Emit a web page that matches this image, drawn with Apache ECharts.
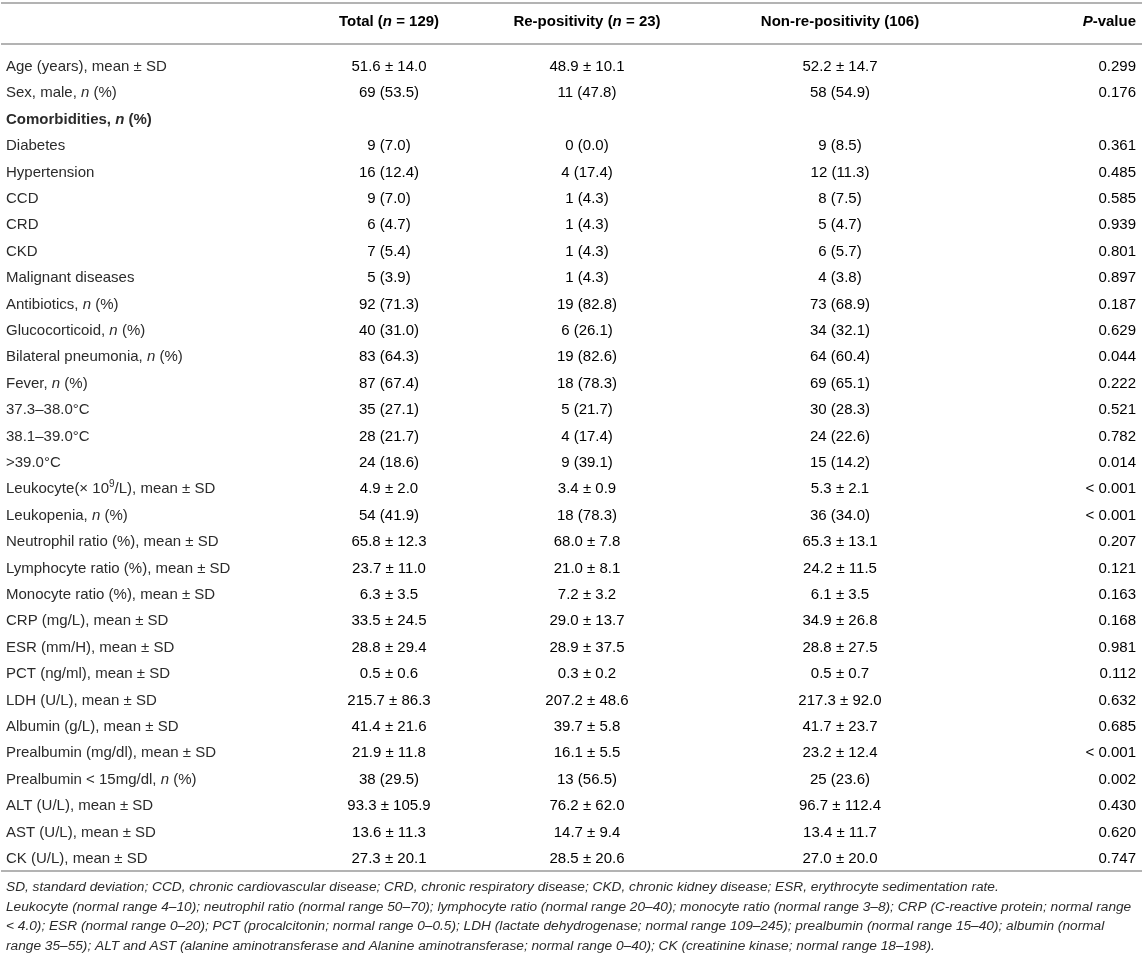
<!DOCTYPE html>
<html>
<head>
<meta charset="utf-8">
<script src="https://cdn.jsdelivr.net/npm/echarts@6/dist/echarts.min.js"></script>
<style>
  html, body { margin: 0; padding: 0; background: #fff; }
  #chart { width: 1143px; height: 968px; }
</style>
</head>
<body>
<div id="chart"></div>
<script>
// '*' toggles italic, '^' toggles superscript
const rowLabels = [
  'Age (years), mean ± SD', 'Sex, male, *n* (%)', 'Comorbidities, *n* (%)', 'Diabetes', 'Hypertension',
  'CCD', 'CRD', 'CKD', 'Malignant diseases', 'Antibiotics, *n* (%)', 'Glucocorticoid, *n* (%)',
  'Bilateral pneumonia, *n* (%)', 'Fever, *n* (%)', '37.3–38.0°C', '38.1–39.0°C', '>39.0°C',
  'Leukocyte(× 10^9^/L), mean ± SD', 'Leukopenia, *n* (%)', 'Neutrophil ratio (%), mean ± SD',
  'Lymphocyte ratio (%), mean ± SD', 'Monocyte ratio (%), mean ± SD', 'CRP (mg/L), mean ± SD',
  'ESR (mm/H), mean ± SD', 'PCT (ng/ml), mean ± SD', 'LDH (U/L), mean ± SD', 'Albumin (g/L), mean ± SD',
  'Prealbumin (mg/dl), mean ± SD', 'Prealbumin < 15mg/dl, *n* (%)', 'ALT (U/L), mean ± SD',
  'AST (U/L), mean ± SD', 'CK (U/L), mean ± SD'
];
const boldRows = ['Comorbidities, *n* (%)'];

const totalValues = [
  '51.6 ± 14.0', '69 (53.5)', '', '9 (7.0)', '16 (12.4)', '9 (7.0)', '6 (4.7)', '7 (5.4)', '5 (3.9)',
  '92 (71.3)', '40 (31.0)', '83 (64.3)', '87 (67.4)', '35 (27.1)', '28 (21.7)', '24 (18.6)',
  '4.9 ± 2.0', '54 (41.9)', '65.8 ± 12.3', '23.7 ± 11.0', '6.3 ± 3.5', '33.5 ± 24.5', '28.8 ± 29.4',
  '0.5 ± 0.6', '215.7 ± 86.3', '41.4 ± 21.6', '21.9 ± 11.8', '38 (29.5)', '93.3 ± 105.9',
  '13.6 ± 11.3', '27.3 ± 20.1'
];
const rePositiveValues = [
  '48.9 ± 10.1', '11 (47.8)', '', '0 (0.0)', '4 (17.4)', '1 (4.3)', '1 (4.3)', '1 (4.3)', '1 (4.3)',
  '19 (82.8)', '6 (26.1)', '19 (82.6)', '18 (78.3)', '5 (21.7)', '4 (17.4)', '9 (39.1)',
  '3.4 ± 0.9', '18 (78.3)', '68.0 ± 7.8', '21.0 ± 8.1', '7.2 ± 3.2', '29.0 ± 13.7', '28.9 ± 37.5',
  '0.3 ± 0.2', '207.2 ± 48.6', '39.7 ± 5.8', '16.1 ± 5.5', '13 (56.5)', '76.2 ± 62.0',
  '14.7 ± 9.4', '28.5 ± 20.6'
];
const nonRePositiveValues = [
  '52.2 ± 14.7', '58 (54.9)', '', '9 (8.5)', '12 (11.3)', '8 (7.5)', '5 (4.7)', '6 (5.7)', '4 (3.8)',
  '73 (68.9)', '34 (32.1)', '64 (60.4)', '69 (65.1)', '30 (28.3)', '24 (22.6)', '15 (14.2)',
  '5.3 ± 2.1', '36 (34.0)', '65.3 ± 13.1', '24.2 ± 11.5', '6.1 ± 3.5', '34.9 ± 26.8', '28.8 ± 27.5',
  '0.5 ± 0.7', '217.3 ± 92.0', '41.7 ± 23.7', '23.2 ± 12.4', '25 (23.6)', '96.7 ± 112.4',
  '13.4 ± 11.7', '27.0 ± 20.0'
];
const pValues = [
  '0.299', '0.176', '', '0.361', '0.485', '0.585', '0.939', '0.801', '0.897', '0.187', '0.629',
  '0.044', '0.222', '0.521', '0.782', '0.014', '< 0.001', '< 0.001', '0.207', '0.121', '0.163',
  '0.168', '0.981', '0.112', '0.632', '0.685', '< 0.001', '0.002', '0.430', '0.620', '0.747'
];
const columnHeaders = ['Total (*n* = 129)', 'Re-positivity (*n* = 23)', 'Non-re-positivity (106)', '*P*-value'];

const footnotes = [
  'SD, standard deviation; CCD, chronic cardiovascular disease; CRD, chronic respiratory disease; CKD, chronic kidney disease; ESR, erythrocyte sedimentation rate.',
  'Leukocyte (normal range 4–10); neutrophil ratio (normal range 50–70); lymphocyte ratio (normal range 20–40); monocyte ratio (normal range 3–8); CRP (C-reactive protein; normal range',
  '< 4.0); ESR (normal range 0–20); PCT (procalcitonin; normal range 0–0.5); LDH (lactate dehydrogenase; normal range 109–245); prealbumin (normal range 15–40); albumin (normal',
  'range 35–55); ALT and AST (alanine aminotransferase and Alanine aminotransferase; normal range 0–40); CK (creatinine kinase; normal range 18–198).'
];

// layout
const W = 1143;
const colX = [389, 587, 840, 1136];
const colAlign = ['center', 'center', 'center', 'right'];
const rowH = 26.4;
const gridTop = 53.6;
const FONT = '"Liberation Sans", Arial, Helvetica, sans-serif';
const TXT = '#2b2b2b';
const RULE = '#b3b3b3';

const rich = {
  r:   { fontFamily: FONT, fontSize: 15, color: TXT, lineHeight: 20 },
  ri:  { fontFamily: FONT, fontSize: 15, color: TXT, lineHeight: 20, fontStyle: 'italic' },
  b:   { fontFamily: FONT, fontSize: 15, color: TXT, lineHeight: 20, fontWeight: 'bold' },
  bi:  { fontFamily: FONT, fontSize: 15, color: TXT, lineHeight: 20, fontWeight: 'bold', fontStyle: 'italic' },
  sup: { fontFamily: FONT, fontSize: 10, color: TXT, lineHeight: 11, verticalAlign: 'top' }
};

function toRich(s, base) {
  let out = '', buf = '', it = false, sup = false;
  const flush = () => {
    if (buf) { out += '{' + (sup ? 'sup' : base + (it ? 'i' : '')) + '|' + buf + '}'; buf = ''; }
  };
  for (const ch of s) {
    if (ch === '*') { flush(); it = !it; }
    else if (ch === '^') { flush(); sup = !sup; }
    else buf += ch;
  }
  flush();
  return out;
}

const columns = [totalValues, rePositiveValues, nonRePositiveValues, pValues];
const cells = [];
columns.forEach((col, c) => {
  col.forEach((v, r) => { if (v) cells.push({ value: [colX[c], r], text: v, col: c }); });
});

const chart = echarts.init(document.getElementById('chart'), null, { renderer: 'canvas' });

const graphics = [];
[3, 44, gridTop + rowH * rowLabels.length - 1].forEach(y => {
  graphics.push({ type: 'line', shape: { x1: 1, y1: y, x2: W - 1, y2: y }, style: { stroke: RULE, lineWidth: 2 }, silent: true });
});
columnHeaders.forEach((h, c) => {
  graphics.push({
    type: 'text', x: colX[c], y: 22,
    style: { text: toRich(h, 'b'), rich: rich, align: colAlign[c], verticalAlign: 'middle' }
  });
});
footnotes.forEach((f, i) => {
  graphics.push({
    type: 'text', x: 6, y: 887 + i * 19.7,
    style: { text: f, fontFamily: FONT, fontSize: 13.7, fontStyle: 'italic', fill: TXT, verticalAlign: 'middle', align: 'left' }
  });
});

chart.setOption({
  animation: false,
  grid: { left: 0, right: 0, top: gridTop, height: rowH * rowLabels.length },
  xAxis: { type: 'value', min: 0, max: W, show: false },
  yAxis: {
    type: 'category', data: rowLabels, inverse: true,
    axisLine: { show: false }, axisTick: { show: false }, splitLine: { show: false },
    axisLabel: {
      inside: true, margin: 6, interval: 0, align: 'left',
      formatter: v => toRich(v, boldRows.includes(v) ? 'b' : 'r'),
      rich: rich
    }
  },
  series: [{
    type: 'custom',
    coordinateSystem: 'cartesian2d',
    data: cells,
    renderItem: (params, api) => {
      const cell = cells[params.dataIndex];
      const pt = api.coord([api.value(0), api.value(1)]);
      return {
        type: 'text', x: pt[0], y: pt[1],
        style: { text: toRich(cell.text, 'r'), rich: rich, align: colAlign[cell.col], verticalAlign: 'middle' }
      };
    }
  }],
  graphic: graphics
});
</script>
</body>
</html>
